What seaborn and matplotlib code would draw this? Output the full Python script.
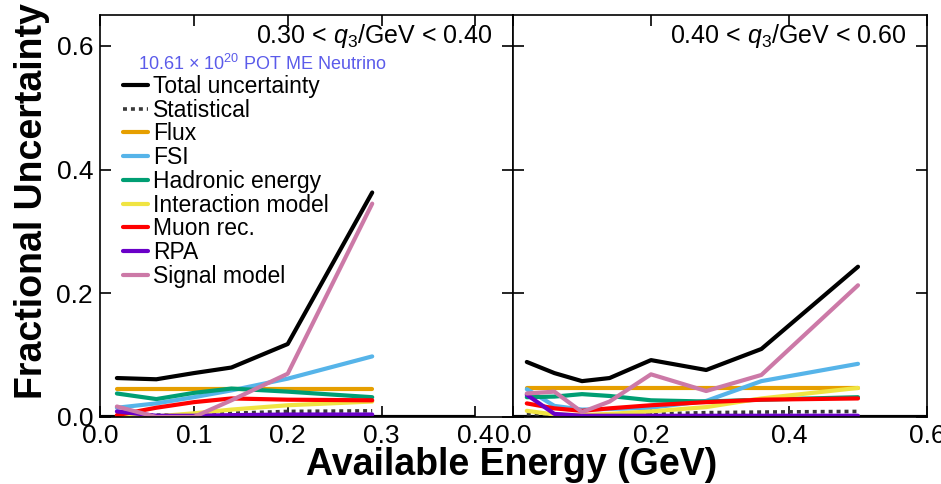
import matplotlib
matplotlib.use("Agg")
import matplotlib.pyplot as plt
import seaborn as sns

# Available energy bin centres (GeV) for each q3 slice
left_energy = [0.018, 0.06, 0.10, 0.14, 0.20, 0.29]
right_energy = [0.02, 0.06, 0.10, 0.14, 0.20, 0.28, 0.36, 0.50]

# 0.30 < q3/GeV < 0.40
left_total = [0.063, 0.061, 0.071, 0.080, 0.118, 0.363]
left_stat = [0.004, 0.003, 0.004, 0.006, 0.009, 0.010]
left_flux = [0.046, 0.046, 0.046, 0.046, 0.046, 0.046]
left_fsi = [0.015, 0.022, 0.032, 0.043, 0.062, 0.098]
left_hadronic = [0.038, 0.029, 0.039, 0.046, 0.041, 0.032]
left_interaction = [0.002, 0.001, 0.006, 0.012, 0.019, 0.025]
left_muon = [0.003, 0.015, 0.024, 0.030, 0.028, 0.027]
left_rpa = [0.009, 0.002, 0.002, 0.003, 0.004, 0.004]
left_signal = [0.017, 0.000, 0.000, 0.027, 0.070, 0.345]

# 0.40 < q3/GeV < 0.60
right_total = [0.089, 0.071, 0.058, 0.063, 0.092, 0.076, 0.110, 0.243]
right_stat = [0.005, 0.004, 0.003, 0.004, 0.005, 0.007, 0.008, 0.009]
right_flux = [0.047, 0.047, 0.047, 0.047, 0.047, 0.047, 0.047, 0.047]
right_fsi = [0.045, 0.018, 0.012, 0.013, 0.015, 0.026, 0.058, 0.086]
right_hadronic = [0.032, 0.033, 0.037, 0.034, 0.027, 0.025, 0.028, 0.032]
right_interaction = [0.010, 0.004, 0.003, 0.005, 0.009, 0.016, 0.030, 0.047]
right_muon = [0.022, 0.014, 0.010, 0.014, 0.019, 0.024, 0.028, 0.030]
right_rpa = [0.036, 0.005, 0.002, 0.002, 0.002, 0.002, 0.002, 0.002]
right_signal = [0.038, 0.041, 0.008, 0.025, 0.069, 0.042, 0.068, 0.213]

labels = ["Total uncertainty", "Statistical", "Flux", "FSI", "Hadronic energy",
          "Interaction model", "Muon rec.", "RPA", "Signal model"]
colors = ["#000000", "#3a3a3a", "#E69F00", "#56B4E9", "#009E73",
          "#F0E442", "#FF0000", "#6A00C8", "#CC79A7"]

panel_titles = [r"0.30 < $q_{3}$/GeV < 0.40", r"0.40 < $q_{3}$/GeV < 0.60"]
left_xticks = [0.0, 0.1, 0.2, 0.3, 0.4]
right_xticks = [0.0, 0.2, 0.4, 0.6]
yticks = [0.0, 0.2, 0.4, 0.6]

sns.set_theme(style="white")
plt.rcParams["font.family"] = ["Liberation Sans", "DejaVu Sans"]
plt.rcParams["mathtext.fontset"] = "custom"
plt.rcParams["mathtext.rm"] = "Liberation Sans"
plt.rcParams["mathtext.it"] = "Liberation Sans:italic"
plt.rcParams["mathtext.bf"] = "Liberation Sans:bold"
plt.rcParams["text.color"] = "black"
plt.rcParams["axes.labelcolor"] = "black"
plt.rcParams["xtick.color"] = "black"
plt.rcParams["ytick.color"] = "black"
plt.rcParams["xtick.labelcolor"] = "black"
plt.rcParams["ytick.labelcolor"] = "black"

fig = plt.figure(figsize=(9.41, 4.84), dpi=100)
ax_l = fig.add_axes([100 / 941, 1 - 417 / 484, 413 / 941, 402 / 484])
ax_r = fig.add_axes([513 / 941, 1 - 417 / 484, 414 / 941, 402 / 484])

left_series = [left_total, left_stat, left_flux, left_fsi, left_hadronic,
               left_interaction, left_muon, left_rpa, left_signal]
right_series = [right_total, right_stat, right_flux, right_fsi, right_hadronic,
                right_interaction, right_muon, right_rpa, right_signal]


def draw_panel(ax, energy, series, xmax_line, xlim, xticks, title):
    ax.hlines(0, 0, xmax_line, color="black", lw=3, zorder=1)
    for vals, lab, col in zip(series, labels, colors):
        if lab == "Statistical":
            sns.lineplot(x=energy, y=vals, ax=ax, color=col, lw=2.6,
                         linestyle=(0, (1.1, 1.1)), label=lab, sort=False,
                         estimator=None)
        else:
            sns.lineplot(x=energy, y=vals, ax=ax, color=col, lw=3,
                         label=lab, sort=False, estimator=None)
    ax.set_xlim(*xlim)
    ax.set_ylim(0, 0.65)
    ax.set_xticks(xticks)
    ax.set_xticklabels([f"{t:.1f}" for t in xticks])
    ax.set_yticks(yticks)
    ax.tick_params(axis="both", which="major", direction="in", length=8,
                   width=1.2, color="black", labelcolor="black",
                   labelsize=19, pad=5,
                   top=True, right=True, left=True, bottom=True)
    for sp in ax.spines.values():
        sp.set_color("black")
        sp.set_linewidth(1.2)
    ax.set_xlabel("")
    ax.set_ylabel("")
    ax.text(0.9516, 0.930, title, transform=ax.transAxes, ha="right",
            va="baseline", fontsize=18, color="black")


draw_panel(ax_l, left_energy, left_series, 0.4, (0, 0.44), left_xticks,
           panel_titles[0])
draw_panel(ax_r, right_energy, right_series, 0.6, (0, 0.6), right_xticks,
           panel_titles[1])
ax_r.set_yticklabels([])

ax_r.get_legend().remove()
ax_l.legend(loc="upper left", bbox_to_anchor=(0.0557, 0.8505), frameon=False,
            fontsize=16.5, borderpad=0, borderaxespad=0, handlelength=1.1,
            handletextpad=0.22, labelspacing=0.03, labelcolor="black")

ax_l.text(0.092, 0.863, "10.61 \u00d7 10$^{20}$ POT ME Neutrino",
          transform=ax_l.transAxes, ha="left", va="baseline", fontsize=13,
          color="#5b5bea")

fig.text(512 / 941, 1 - 475 / 484, "Available Energy (GeV)", ha="center",
         va="baseline", fontsize=27, fontweight="bold", color="black")
fig.text(32.5 / 941, 1 - 201 / 484, "Fractional Uncertainty", ha="center",
         va="center", rotation=90, fontsize=27, fontweight="bold",
         color="black")

fig.savefig("out.png", dpi=100)
